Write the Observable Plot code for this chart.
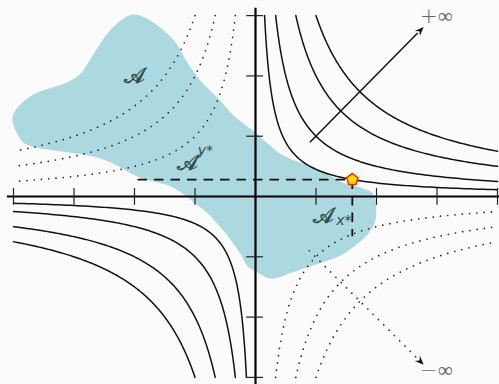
<!DOCTYPE html>
<html><head><meta charset="utf-8">
<script src="https://cdn.jsdelivr.net/npm/d3@7"></script>
<script src="https://cdn.jsdelivr.net/npm/@observablehq/plot@0.6"></script>
<style>body{margin:0;background:#fbfbfb;overflow:hidden}</style>
</head><body><div id="chart"></div>
<script>
// Level values of the hyperbolas x*y = c
const solidLevels = [0.45, 1, 2, 3];   // quadrants I and III (x*y = +c)
const dottedLevels = [1, 2, 3];        // quadrants II and IV (x*y = -c)
const xTicks = [-4, -3, -2, -1, 1, 2, 3, 4];
const yTicks = [-3, -2, -1, 1, 2, 3];
// Blob outline (set A)
const blobX = [-2.02,-1.74,-1.35,-1.12,-0.91,-0.63,-0.36,0.00,0.20,0.46,1.02,1.45,1.74,1.94,1.99,1.98,1.87,1.69,1.41,1.03,0.63,0.25,0.00,-0.12,-0.25,-0.41,-0.58,-0.79,-1.02,-1.36,-1.90,-2.56,-3.80,-3.93,-4.02,-3.96,-3.67,-3.12,-2.89,-2.64,-2.45,-2.23];
const blobY = [3.02,2.92,2.59,2.21,1.92,1.64,1.34,1.06,0.88,0.68,0.46,0.23,0.15,0.05,-0.12,-0.40,-0.61,-0.78,-0.98,-1.12,-1.25,-1.36,-1.24,-1.17,-0.95,-0.72,-0.51,-0.28,-0.10,0.15,0.31,0.63,0.87,1.03,1.29,1.44,1.69,1.89,2.04,2.42,2.70,2.92];
// Selected point (x*, y*) and its sections
const xStar = 1.6, yStar = 0.45 / 1.6;
const sectionLeft = -1.95, sectionBottom = -0.66;
// Arrows towards +inf / -inf
const arrowUp = {x1: 0.9, y1: 0.9, x2: 2.78, y2: 2.81};
const arrowDown = {x1: 0.89, y1: -0.9, x2: 2.78, y2: -2.79};
const labels = [
  {x: -2.0, y: 2.0, text: "𝒜"},
  {x: -1.12, y: 0.56, text: "𝒜"},
  {x: 1.12, y: -0.33, text: "𝒜"}
];
const scripts = [
  {x: -0.83, y: 0.77, text: "y*"},
  {x: 1.46, y: -0.40, text: "x*"}
];
const infLabels = [
  {x: 2.99, y: 2.985, text: "+∞"},
  {x: 2.99, y: -2.885, text: "−∞"}
];

// Curve samples along x*y = c
function branch(c, sx, sy, n = 160) {
  const a = Math.log(c / 3), b = Math.log(4);
  const pts = [];
  for (let i = 0; i <= n; i++) {
    const x = Math.exp(a + (b - a) * i / n);
    pts.push({x: sx * x, y: sy * c / x, c, q: sx + "" + sy});
  }
  return pts;
}
const solid = solidLevels.flatMap(c => [...branch(c, 1, 1), ...branch(c, -1, -1)]);
const dotted = dottedLevels.flatMap(c => [...branch(c, -1, 1), ...branch(c, 1, -1)]);
const blob = blobX.map((x, i) => ({x, y: blobY[i]}));

const sx = 60.5, sy = 60.3, ox = 255, oy = 196, W = 499, H = 384;
const pentagon = {draw(ctx, size) {
  const r = Math.sqrt(size / Math.PI);
  for (let i = 0; i < 5; i++) {
    const a = -Math.PI / 2 + i * 2 * Math.PI / 5;
    i ? ctx.lineTo(r * Math.cos(a), r * Math.sin(a)) : ctx.moveTo(r * Math.cos(a), r * Math.sin(a));
  }
  ctx.closePath();
}};
const stealth = {draw(ctx, size) {
  const r = Math.sqrt(size / Math.PI);
  ctx.moveTo(0, 0); ctx.lineTo(0.6 * r, 1.5 * r); ctx.lineTo(0, 1.0 * r); ctx.lineTo(-0.6 * r, 1.5 * r); ctx.closePath();
}};
const tl = 8 / sy, tlx = 8 / sx;
const ink = "#2f4a4a";

const chart = Plot.plot({
  width: W, height: H,
  marginLeft: 0, marginRight: 0, marginTop: 0, marginBottom: 0,
  x: {domain: [-ox / sx, (W - ox) / sx], axis: null},
  y: {domain: [-(H - oy) / sy, oy / sy], axis: null},
  style: {background: "#fbfbfb"},
  marks: [
    Plot.line(blob, {x: "x", y: "y", curve: "catmull-rom-closed", fill: "#acd8e0", stroke: "none"}),
    Plot.line(dotted, {x: "x", y: "y", z: d => d.c + d.q, stroke: "#222", strokeWidth: 1.7, strokeDasharray: "0,7.3", strokeLinecap: "round"}),
    Plot.line(solid, {x: "x", y: "y", z: d => d.c + d.q, stroke: "#111", strokeWidth: 1.5}),
    Plot.ruleY([0], {x1: -4.1, x2: (W - ox) / sx, stroke: "#000", strokeWidth: 2.2}),
    Plot.ruleX([0], {y1: -(H - oy) / sy, y2: 3.12, stroke: "#000", strokeWidth: 2.2}),
    Plot.ruleX(xTicks, {x: d => d, y1: -tl * 1.1, y2: tl, stroke: "#222", strokeWidth: 1.2}),
    Plot.ruleY(yTicks, {y: d => d, x1: -tlx * 1.1, x2: tlx, stroke: "#222", strokeWidth: 1.2}),
    Plot.link([0], {x1: sectionLeft, y1: yStar, x2: xStar, y2: yStar, stroke: "#111", strokeWidth: 1.8, strokeDasharray: "9.5,7"}),
    Plot.link([0], {x1: xStar, y1: yStar, x2: xStar, y2: sectionBottom, stroke: "#111", strokeWidth: 1.8, strokeDasharray: "9.5,7"}),
    Plot.link([arrowUp], {x1: "x1", y1: "y1", x2: d => d.x2 - 0.1, y2: d => d.y2 - 0.1, stroke: "#111", strokeWidth: 1.5}),
    Plot.dot([arrowUp], {x: "x2", y: "y2", symbol: stealth, r: 6, fill: "#111", stroke: "none", rotate: 45}),
    Plot.link([arrowDown], {x1: "x1", y1: "y1", x2: d => d.x2 - 0.1, y2: d => d.y2 + 0.1, stroke: "#222", strokeWidth: 1.7, strokeDasharray: "0,7.5", strokeLinecap: "round"}),
    Plot.dot([arrowDown], {x: "x2", y: "y2", symbol: stealth, r: 6, fill: "#111", stroke: "none", rotate: 135}),
    Plot.dot([0], {x: xStar, y: yStar, symbol: pentagon, r: 6, fill: "#ffe000", stroke: "#ff2a00", strokeWidth: 1.5}),
    Plot.text(labels, {x: "x", y: "y", text: "text", fontSize: 22, fill: ink, stroke: ink, strokeWidth: 0.5, fontFamily: "DejaVu Serif"}),
    Plot.text(scripts, {x: "x", y: "y", text: "text", fontSize: 14, fill: ink, fontFamily: "DejaVu Sans", fontStyle: "italic"}),
    Plot.text(infLabels, {x: "x", y: "y", text: "text", fontSize: 21, fill: "#5a6a6a", fontFamily: "DejaVu Sans", fontWeight: 300})
  ]
});
document.getElementById("chart").append(chart);
</script></body></html>
